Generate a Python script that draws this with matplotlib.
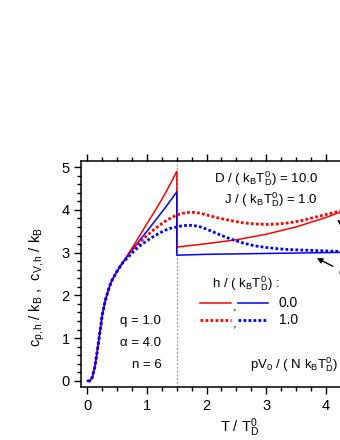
import numpy as np
import matplotlib
matplotlib.use("Agg")
import matplotlib.pyplot as plt
from matplotlib.lines import Line2D
from matplotlib.ticker import MultipleLocator

plt.rcParams['font.family'] = ['Liberation Sans', 'DejaVu Sans']
plt.rcParams['mathtext.fontset'] = 'custom'
plt.rcParams['mathtext.rm'] = 'Liberation Sans'
plt.rcParams['mathtext.it'] = 'Liberation Sans:italic'
plt.rcParams['mathtext.default'] = 'regular'

# common low temperature part
t_low = [0.0, 0.04, 0.08, 0.12, 0.16, 0.2, 0.25, 0.3, 0.35, 0.4, 0.45, 0.5, 0.55, 0.6]
c_low = [0.0, 0.0, 0.08, 0.3, 0.65, 1.05, 1.55, 1.88, 2.12, 2.32, 2.45, 2.57, 2.68, 2.78]

# h = 0 (solid), below and above T = 1.5
t_mid = [0.7, 0.8, 0.9, 1.0, 1.1, 1.2, 1.3, 1.4, 1.5]
red_mid = [3.0, 3.22, 3.45, 3.68, 3.9, 4.13, 4.37, 4.63, 4.9]
blue_mid = [2.97, 3.15, 3.33, 3.5, 3.68, 3.86, 4.04, 4.23, 4.42]
t_high = [1.5, 2.0, 2.5, 3.0, 3.5, 4.0, 4.5, 5.0]
red_high = [3.13, 3.21, 3.3, 3.43, 3.6, 3.82, 4.08, 4.38]
blue_high = [2.94, 2.96, 2.97, 2.98, 2.99, 3.0, 3.01, 3.02]

# h = 1 (dotted)
t_dot = [0.7, 0.8, 0.9, 1.0, 1.1, 1.2, 1.3, 1.4, 1.5, 1.6, 1.7, 1.8, 1.9, 2.0,
         2.2, 2.4, 2.6, 2.8, 3.0, 3.2, 3.4, 3.6, 3.8, 4.0, 4.2, 4.4, 4.6, 4.8, 5.0]
red_dot = [2.96, 3.12, 3.27, 3.4, 3.52, 3.63, 3.73, 3.81, 3.88, 3.92, 3.94, 3.94, 3.92, 3.88,
           3.81, 3.75, 3.7, 3.67, 3.66, 3.67, 3.7, 3.75, 3.82, 3.89, 3.96, 4.04, 4.12, 4.2, 4.27]
blue_dot = [2.92, 3.06, 3.18, 3.28, 3.37, 3.45, 3.52, 3.57, 3.6, 3.63, 3.64, 3.63, 3.6, 3.55,
            3.43, 3.32, 3.23, 3.16, 3.12, 3.09, 3.07, 3.06, 3.05, 3.04, 3.03, 3.03, 3.02, 3.02, 3.01]

t_c = 1.5

fig = plt.figure(figsize=(3.4, 4.4), dpi=100)
ax = fig.add_axes([0.2397, 0.1198, 0.8935, 0.515])

red = '#ff0000'
blue = '#0000ff'
dots = (0, (1, 0.8))

ax.axvline(t_c, color='#999999', ls=(0, (1.5, 1.5)), lw=0.9, zorder=1)

ts = t_low + t_mid
ax.plot(ts + t_high, c_low + red_mid + red_high, color=red, lw=1.1)
ax.plot(ts + t_high, c_low + blue_mid + blue_high, color=blue, lw=1.1)
ax.plot(t_low + t_dot, c_low + red_dot, color=red, lw=2.0, ls=dots)
ax.plot(t_low + t_dot, c_low + blue_dot, color=blue, lw=2.0, ls=dots)

ax.set_xlim(-0.1, 5.0)
ax.set_ylim(-0.15, 5.15)
ax.xaxis.set_major_locator(MultipleLocator(1))
ax.xaxis.set_minor_locator(MultipleLocator(0.25))
ax.yaxis.set_major_locator(MultipleLocator(1))
ax.yaxis.set_minor_locator(MultipleLocator(0.2))
ax.tick_params(which='both', direction='out', top=True, right=True, labelsize=10.5, width=1)
ax.tick_params(which='major', length=5)
ax.tick_params(which='minor', length=3)
for s in ax.spines.values():
    s.set_linewidth(1.1)

ax.set_xlabel('T / T$_D^0$', fontsize=10.5)
ax.set_ylabel('c$_{p,h}$ / k$_B$ ,  c$_{V,h}$ / k$_B$', fontsize=10.5)
ax.xaxis.set_label_coords(0.52, -0.13)
ax.yaxis.set_label_coords(-0.115, 0.44)

fs = 9.5
ax.text(3.87, 4.74, 'D / ( k$_B$T$_D^0$) = 10.0', ha='right', va='center', fontsize=fs)
ax.text(3.87, 4.23, 'J / ( k$_B$T$_D^0$) = 1.0', ha='right', va='center', fontsize=fs)
ax.text(1.24, 1.40, 'q = 1.0', ha='right', va='center', fontsize=fs)
ax.text(1.24, 0.895, '\u03b1 = 4.0', ha='right', va='center', fontsize=fs)
ax.text(1.24, 0.374, 'n = 6', ha='right', va='center', fontsize=fs)
ax.text(2.73, 0.374, 'pV$_0$ / ( N k$_B$T$_D^0$) = 0.0', ha='left', va='center', fontsize=fs)

# legend by hand
ax.text(0.4286, 0.456, 'h / ( k$_B$T$_D^0$) :', transform=ax.transAxes, ha='left', va='center', fontsize=fs)
for yf, style, lw, lab in [(0.372, '-', 1.1, '0.0'), (0.297, dots, 2.0, '1.0')]:
    ax.add_line(Line2D([0.390, 0.492], [yf, yf], transform=ax.transAxes, color=red, ls=style, lw=lw))
    ax.text(0.497, yf - 0.02, ',', transform=ax.transAxes, ha='left', va='center', fontsize=fs)
    ax.add_line(Line2D([0.515, 0.614], [yf, yf], transform=ax.transAxes, color=blue, ls=style, lw=lw))
    ax.text(0.650, yf, lab, transform=ax.transAxes, ha='left', va='center', fontsize=fs + 0.5)

ax.annotate('c$_{V,h}$', xy=(3.85, 2.87), xytext=(4.21, 2.48), ha='left', va='center', fontsize=fs,
            arrowprops=dict(arrowstyle='-|>', color='k', lw=1, mutation_scale=8, shrinkA=2, shrinkB=0))
ax.annotate('c$_{p,h}$', xy=(4.19, 3.76), xytext=(4.5, 3.3), ha='left', va='center', fontsize=fs,
            arrowprops=dict(arrowstyle='-|>', color='k', lw=1, mutation_scale=8, shrinkA=2, shrinkB=0))

fig.savefig('out.png', dpi=100)
